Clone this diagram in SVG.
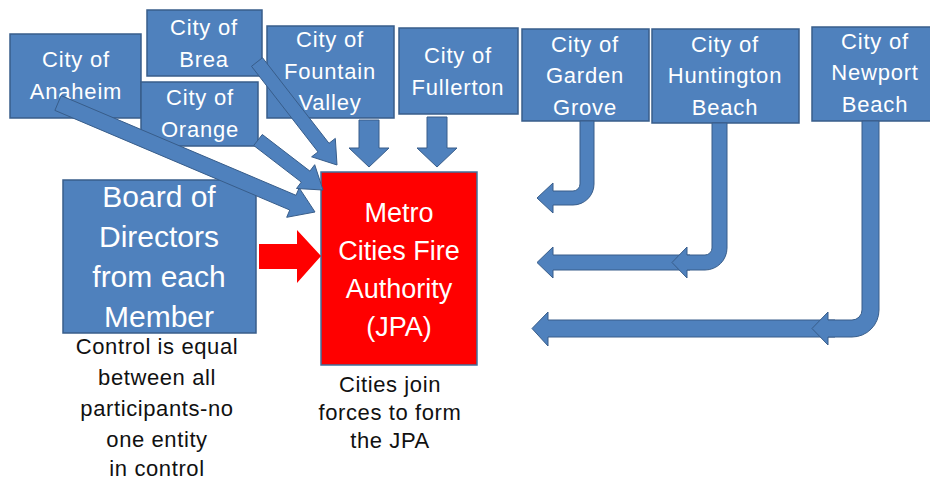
<svg xmlns="http://www.w3.org/2000/svg" width="930" height="483" viewBox="0 0 930 483">
<style>
.box{fill:#4F81BD;stroke:#385D8A;stroke-width:1.5}
.arr{fill:#4F81BD;stroke:#385D8A;stroke-width:1}
.red{fill:#FF0000;stroke:#41719C;stroke-width:1.5}
.ct{font-family:"Liberation Sans",Arial,sans-serif;font-size:22px;fill:#FFFFFF;text-anchor:middle;letter-spacing:0.8px}
.bt{font-family:"Liberation Sans",Arial,sans-serif;font-size:30px;fill:#FFFFFF;text-anchor:middle}
.mt{font-family:"Liberation Sans",Arial,sans-serif;font-size:27px;fill:#FFFFFF;text-anchor:middle}
.lt{font-family:"Liberation Sans",Arial,sans-serif;font-size:22px;fill:#111111;text-anchor:middle;letter-spacing:0.6px}
</style>
<rect width="930" height="483" fill="#FFFFFF"/>
<g id="anaheim"><rect class="box" x="10" y="34" width="131" height="84"/><text class="ct" x="76" y="67">City of</text><text class="ct" x="76" y="99">Anaheim</text></g>
<g id="brea"><rect class="box" x="147" y="10" width="115" height="66"/><text class="ct" x="204" y="35">City of</text><text class="ct" x="204" y="67">Brea</text></g>
<g id="orange"><rect class="box" x="141" y="82" width="117" height="64"/><text class="ct" x="200" y="105">City of</text><text class="ct" x="200" y="137">Orange</text></g>
<g id="fountain-valley"><rect class="box" x="267" y="26" width="127" height="92"/><text class="ct" x="330" y="47">City of</text><text class="ct" x="330" y="79">Fountain</text><text class="ct" x="330" y="110">Valley</text></g>
<g id="fullerton"><rect class="box" x="399" y="28" width="119" height="86"/><text class="ct" x="458" y="63">City of</text><text class="ct" x="458" y="95">Fullerton</text></g>
<g id="garden-grove"><rect class="box" x="522" y="29" width="127" height="92"/><text class="ct" x="585" y="52">City of</text><text class="ct" x="585" y="83">Garden</text><text class="ct" x="585" y="115">Grove</text></g>
<g id="huntington-beach"><rect class="box" x="652" y="29" width="147" height="94"/><text class="ct" x="725" y="52">City of</text><text class="ct" x="725" y="83">Huntington</text><text class="ct" x="725" y="115">Beach</text></g>
<g id="newport-beach"><rect class="box" x="812" y="27" width="120" height="94"/><text class="ct" x="875" y="49">City of</text><text class="ct" x="875" y="80">Newport</text><text class="ct" x="875" y="112">Beach</text></g>
<g id="board"><rect class="box" x="63" y="180" width="193" height="153"/><text class="bt" x="159" y="207">Board of</text><text class="bt" x="159" y="247">Directors</text><text class="bt" x="159" y="287">from each</text><text class="bt" x="159" y="327">Member</text></g>
<g id="metro"><rect class="red" x="321" y="172" width="156" height="193"/><text class="mt" x="399" y="222">Metro</text><text class="mt" x="399" y="260">Cities Fire</text><text class="mt" x="399" y="298">Authority</text><text class="mt" x="399" y="336">(JPA)</text></g>
<g id="connectors">
<polygon class="arr" points="61.1,95.6 296,195.3 299.2,187.9 315,212 286.7,217.3 289.8,210 54.9,110.4"/>
<polygon class="arr" points="262.5,57.7 329,143.3 335.3,138.4 337,165 311.6,156.8 318,151.9 251.5,66.3"/>
<polygon class="arr" points="262.3,134.5 309.9,171.1 314.7,164.7 323,190 296.5,188.5 301.3,182.1 253.7,145.5"/>
<polygon class="arr" points="359,120 379,120 379,148 389,148 369,167 349,148 359,148"/>
<polygon class="arr" points="427,117 447,117 447,148 457,148 437,167 417,148 427,148"/>
<polygon fill="#FF0000" points="259,244 297,244 297,230 321,256 297,283 297,269 259,269"/>
<path class="arr" d="M580,121 L594,121 L594,184 A21 21 0 0 1 573,205 L553,205 L553,213 L537,198 L553,183 L553,191 L573,191 A7 7 0 0 0 580,184 Z"/>
<path class="arr" d="M690,255 L553,255 L553,247 L537,262.5 L553,278 L553,270 L690,270 Z"/>
<path class="arr" d="M712,123 L727,123 L727,248 A22 22 0 0 1 705,270 L687,270 L687,278 L672,262.5 L687,247 L687,255 L705,255 A7 7 0 0 0 712,248 Z"/>
<path class="arr" d="M835,320 L548,320 L548,312 L532,328.5 L548,346 L548,337 L835,337 Z"/>
<path class="arr" d="M862,121 L879,121 L879,310 A27 27 0 0 1 852,337 L828,337 L828,345 L812,328.5 L828,312 L828,320 L852,320 A10 10 0 0 0 862,310 Z"/>
</g>
<g id="notes">
<text class="lt" x="157" y="354">Control is equal</text>
<text class="lt" x="157" y="385">between  all</text>
<text class="lt" x="157" y="416">participants-no</text>
<text class="lt" x="157" y="447">one entity</text>
<text class="lt" x="157" y="476">in control</text>
<text class="lt" x="390" y="392">Cities join</text>
<text class="lt" x="390" y="420">forces to form</text>
<text class="lt" x="390" y="448">the JPA</text>
</g>
</svg>
